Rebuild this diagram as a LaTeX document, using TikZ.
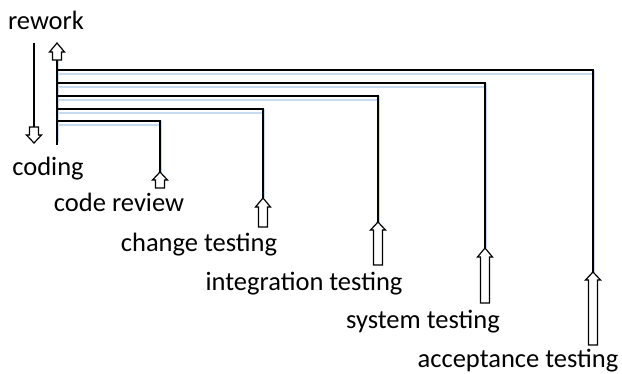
\documentclass[tikz,border=0pt]{standalone}
\usepackage{fontspec}
\setmainfont{Carlito}
\definecolor{shadowblue}{RGB}{198,218,240}
\newcommand\blockup[4]{%
  \draw[blockarrow] (#1-4.5,#4) -- (#1-4.5,#3) -- (#1-7.5,#3) -- (#1,#2) -- (#1+7.5,#3) -- (#1+4.5,#3) -- (#1+4.5,#4) -- cycle;}
\newcommand\blockdown[4]{%
  \draw[blockarrow] (#1-4.5,#4) -- (#1-4.5,#3) -- (#1-7.5,#3) -- (#1,#2) -- (#1+7.5,#3) -- (#1+4.5,#3) -- (#1+4.5,#4) -- cycle;}
\begin{document}
\begin{tikzpicture}[x=1pt,y=-1pt,
  lbl/.style={font=\fontsize{26.5}{30}\selectfont, inner sep=0pt, anchor=base},
  wire/.style={line width=1.5pt, black},
  shade/.style={line width=1.8pt, shadowblue},
  vshade/.style={line width=0.8pt, shadowblue},
  blockarrow/.style={line width=1.2pt, draw=black, fill=white, line join=miter}]
\useasboundingbox (0,0) rectangle (622,373);
% labels
\node[lbl] (rework) at (46,29) {rework};
\node[lbl] (coding) at (48,175) {coding};
\node[lbl] (review) at (119,211.5) {code review};
\node[lbl] (change) at (199,251.5) {change testing};
\node[lbl] (integ) at (304,290) {integration testing};
\node[lbl] (system) at (423,328) {system testing};
\node[lbl] (accept) at (518,367) {acceptance testing};
% coordinates
\coordinate (bus top) at (57,60);
\coordinate (bus bot) at (57,145);
\coordinate (rw top) at (34,43);
\coordinate (rw bot) at (34,127);
\coordinate (b1) at (57,70);  \coordinate (t1) at (593,272);
\coordinate (b2) at (57,83);  \coordinate (t2) at (485,248);
\coordinate (b3) at (57,96);  \coordinate (t3) at (378,222);
\coordinate (b4) at (57,109); \coordinate (t4) at (263,198);
\coordinate (b5) at (57,121); \coordinate (t5) at (160,172);
% shadows
\foreach \b/\t in {b1/t1,b2/t2,b3/t3,b4/t4,b5/t5}{
  \draw[shade] ([yshift=-4pt]\b) -| ([xshift=-1pt,yshift=-4pt]\t |- \b);
  \draw[vshade] ([xshift=1.5pt]\t |- \b) -- ([xshift=1.5pt]\t);
}
\draw[vshade] ([xshift=1.5pt]bus top) -- ([xshift=1.5pt,yshift=3pt]bus bot);
% wires
\draw[wire] (bus top) -- (bus bot);
\draw[wire] (rw top) -- (rw bot);
\foreach \b/\t in {b1/t1,b2/t2,b3/t3,b4/t4,b5/t5}{
  \draw[wire] (\b) -| (\t);
}
% block arrows
\blockup{57}{43}{52}{60}
\blockdown{34}{143}{135}{127}
\blockup{160}{172}{180}{188}
\blockup{263}{198}{207}{227}
\blockup{378}{222}{230}{265}
\blockup{485}{248}{257}{303}
\blockup{593}{272}{280}{345}
\end{tikzpicture}
\end{document}
